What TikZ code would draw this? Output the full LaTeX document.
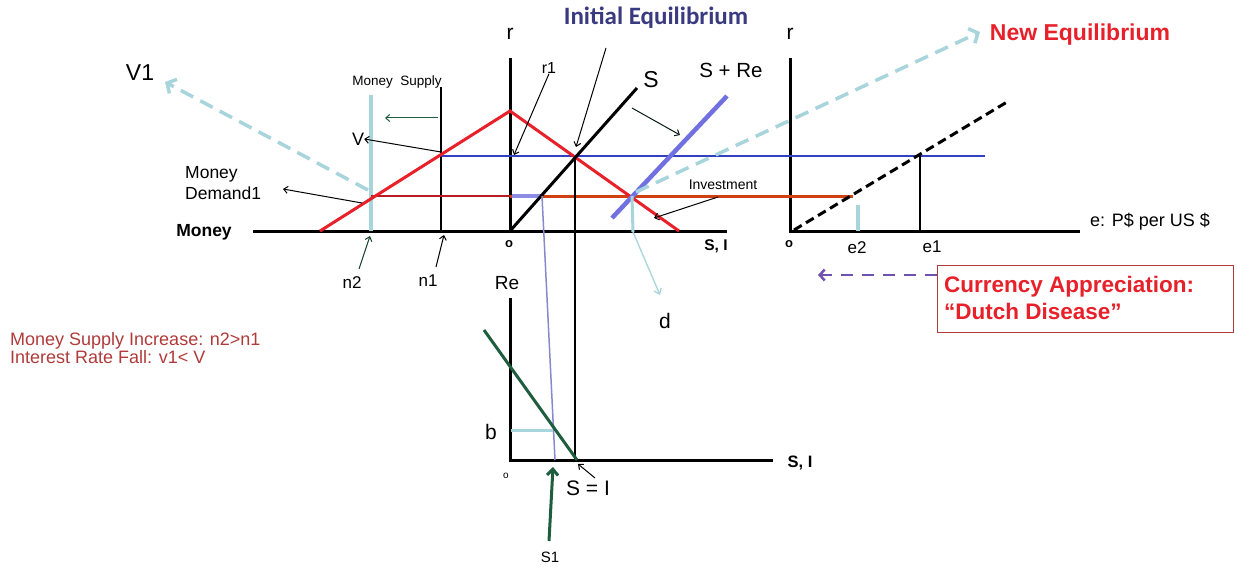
\documentclass[tikz,border=0pt]{standalone}
\usepackage{fontspec}
\setmainfont{Liberation Sans}
\newfontfamily\calib{Carlito}
\usetikzlibrary{arrows.meta}
\definecolor{dred}{HTML}{E8202A}
\definecolor{lblue}{HTML}{A8D4DC}
\definecolor{sblue}{HTML}{3040C0}
\definecolor{srepurple}{HTML}{7070E0}
\definecolor{orng}{HTML}{D04010}
\definecolor{dgreen}{HTML}{1E5E3E}
\definecolor{dpurple}{HTML}{7050B0}
\definecolor{ieblue}{HTML}{3A3A80}
\definecolor{brn}{HTML}{B03A3A}
\definecolor{lpurple}{HTML}{8888CC}
\tikzset{
  fs/.style={font=\fontsize{#1}{#1}\selectfont},
  fsb/.style={font=\bfseries\fontsize{#1}{#1}\selectfont},
  lbl/.style={inner sep=0pt},
  axis/.style={line width=3pt},
  barb/.style={-{Straight Barb[length=4pt,width=7pt]}, line width=1pt},
  bigdash/.style={line width=3.5pt, dash pattern=on 14pt off 8pt, color=lblue,
     -{Straight Barb[length=7pt,width=16pt,line width=3.5pt]}},
}
\begin{document}
\begin{tikzpicture}[x=1pt,y=-1pt]
\useasboundingbox (0,0) rectangle (1237,567);
% ---------- coordinates ----------
\coordinate (mL) at (253,231); \coordinate (mR) at (727,231);
\coordinate (msTop) at (441,87); \coordinate (msBot) at (441,231);
\coordinate (lbTop) at (371,95); \coordinate (lbBot) at (371,231);
\coordinate (dL) at (320,231); \coordinate (dPeak) at (510,111); \coordinate (dR) at (679,231);
\coordinate (rTop) at (510,58); \coordinate (o1) at (510,231);
\coordinate (Sb) at (637,88);
\coordinate (SRa) at (612,218); \coordinate (SRb) at (727,96);
\coordinate (eq1) at (575,157); \coordinate (eq2) at (632,196);
\coordinate (blueL) at (441,156); \coordinate (blueR) at (985,156);
\coordinate (redL) at (371,196); \coordinate (redM) at (510,196);
\coordinate (orR) at (853,196);
\coordinate (pS) at (542,196); \coordinate (pSb) at (555,460);
\coordinate (eqTop) at (575,156); \coordinate (eqBot) at (575,460);
% right panel
\coordinate (r2Top) at (790,58); \coordinate (o2) at (790,231); \coordinate (x2R) at (1080,231);
\coordinate (dashA) at (794,230); \coordinate (dashB) at (1007,102);
\coordinate (e1Top) at (920,156); \coordinate (e1Bot) at (920,231);
\coordinate (e2Top) at (858,205); \coordinate (e2Bot) at (858,231);
% bottom panel
\coordinate (reTop) at (510,298); \coordinate (o3) at (510,460); \coordinate (x3R) at (773,460);
\coordinate (gA) at (484,330); \coordinate (gB) at (577,460);
\coordinate (bR) at (553,430); \coordinate (bL) at (511,430);
% ---------- axes ----------
\draw[axis] (mL) -- (mR);
\draw[axis] (rTop) -- (o1);
\draw[axis] (r2Top) -- (o2) -- (x2R);
\draw[axis] (reTop) -- (o3) -- (x3R);
% money supply lines
\draw[line width=2.5pt] (msTop) -- (msBot);
\draw[line width=3.5pt, lblue] (lbTop) -- (lbBot);
% horizontal rate lines
\draw[line width=1.3pt, sblue] (blueL) -- (blueR);
\draw[line width=1.2pt, dred!80!black] (redL) -- (redM);
\draw[line width=3pt, orng] (redM) -- (orR);
\draw[line width=3.5pt, srepurple!80] (512,196) -- (pS);
% money demand / investment
\draw[line width=3pt, dred, line join=miter] (dL) -- (dPeak) -- (dR);
% S and S+Re
\draw[line width=3pt] (o1) -- (Sb);
\draw[line width=4.5pt, srepurple] (SRa) -- (SRb);
% verticals down
\draw[line width=2.5pt] (eqTop) -- (eqBot);
\draw[line width=1.5pt, lpurple] (pS) -- (pSb);
\draw[line width=3pt, lblue] (eq2) -- (633,232);
\draw[line width=1.3pt, lblue, -{Straight Barb[length=5pt,width=8pt]}] (633,232) -- (660,295);
% right panel
\draw[line width=3pt, dash pattern=on 9pt off 5pt] (dashA) -- (dashB);
\draw[line width=1.2pt] (e1Top) -- (e1Bot);
\draw[line width=3.5pt, lblue] (e2Top) -- (e2Bot);
% bottom panel
\draw[line width=3pt, dgreen] (gA) -- (gB);
\draw[line width=3pt, lblue] (bL) -- (bR);
% ---------- big dashed arrows ----------
\coordinate (v1tail) at (368,190); \coordinate (v1tip) at (165,82);
\coordinate (netail) at (636,192); \coordinate (netip) at (980,32);
\draw[bigdash] (v1tail) -- (v1tip);
\draw[bigdash] (netail) -- (netip);
% ---------- labels ----------
\node[lbl, fs=23] (V1) at (140,73) {V1};
\node[lbl, fs=13.5] (msl) at (397,82) {Money\ \ Supply};
\node[lbl, fs=18] (Vl) at (358,139) {V};
\node[lbl, align=left, anchor=west, font=\fontsize{17.5}{21}\selectfont] (mdl) at (185,183) {Money\\Demand1};
\node[lbl, fsb=17.5] (money) at (204,232) {Money};
\node[lbl, fs=17] (n2) at (352,283) {n2};
\node[lbl, fs=17] (n1) at (428,281) {n1};
\node[lbl, fs=21] (r1ax) at (510,34) {r};
\node[lbl, fs=16] (r1) at (549,68) {r1};
\node[lbl, font=\calib\bfseries\fontsize{25}{25}\selectfont, text=ieblue] (ie) at (656,18) {Initial Equilibrium};
\node[lbl, fs=23] (S) at (651,80) {S};
\node[lbl, fs=20.5] (SRe) at (731,70) {S + Re};
\node[lbl, fs=14] (inv) at (723,185) {Investment};
\node[lbl, fsb=15.5] (SI1) at (716,246) {S, I};
\node[lbl, fsb=13] (o1l) at (509,244) {o};
\node[lbl, fs=21] (r2ax) at (790,34) {r};
\node[lbl, fsb=23, text=dred] (ne) at (1080,35) {New Equilibrium};
\node[lbl, fs=18] (el) at (1150,222) {e: P\$ per US \$};
\node[lbl, fsb=13] (o2l) at (789,244) {o};
\node[lbl, fs=17] (e2) at (857,248) {e2};
\node[lbl, fs=17] (e1) at (932,247) {e1};
\node[draw=brn, line width=1.2pt, anchor=north west, minimum width=296pt, minimum height=67pt,
      inner sep=0pt] (box) at (937,265) {};
\node[lbl, anchor=west, align=left, text=dred, font=\bfseries\fontsize{22.5}{27}\selectfont] (ca) at (944,298)
   {Currency Appreciation:\\“Dutch Disease”};
\node[lbl, fs=21] (d) at (665,321) {d};
\node[lbl, fs=19] (Re) at (507,283) {Re};
\node[lbl, fs=21] (b) at (491,432) {b};
\node[lbl, fs=10] (o3l) at (506,476) {o};
\node[lbl, fsb=16.5] (SI2) at (800,463) {S, I};
\node[lbl, fs=21] (SeqI) at (588,488) {S = I};
\node[lbl, fs=15] (S1) at (550,557) {S1};
\node[lbl, anchor=west, align=left, text=brn, font=\fontsize{18}{18}\selectfont] (note) at (10,348)
   {Money Supply Increase: n2>n1\\Interest Rate Fall: v1< V};
% ---------- small arrows ----------
\coordinate (msArrT) at (438,118); \coordinate (msArrH) at (385,118);
\draw[barb, dgreen] (msArrT) -- (msArrH);
\coordinate (vT) at (441,152);
\draw[barb] (vT) -- (Vl.east);
\coordinate (mdT) at (362,203); \coordinate (mdH) at (283,189);
\draw[barb] (mdT) -- (mdH);
\coordinate (n2H) at (370,236); \coordinate (n1H) at (444,235);
\coordinate (n2T) at (359,269); \coordinate (n1T) at (436,267);
\draw[barb, dgreen!70!black] (n2T) -- (n2H);
\draw[barb] (n1T) -- (n1H);
\coordinate (r1H) at (514,155);
\draw[barb] (r1.south) -- (r1H);
\coordinate (ieT) at (606,48); \coordinate (ieH) at (576,147);
\draw[barb] (ieT) -- (ieH);
\coordinate (sT) at (632,108); \coordinate (sH) at (680,135);
\draw[barb, black!70!dgreen] (sT) -- (sH);
\coordinate (invT) at (718,197); \coordinate (invH) at (654,218);
\draw[barb] (invT) -- (invH);
\coordinate (siT) at (595,478); \coordinate (siH) at (578,464);
\draw[barb] (siT) -- (siH);
\coordinate (s1T) at (549,541); \coordinate (s1H) at (553,467);
\draw[line width=3pt, dgreen, -{Straight Barb[length=6pt,width=11pt]}] (s1T) -- (s1H);
\coordinate (caH) at (818,275);
\draw[line width=2.5pt, dpurple, dash pattern=on 12pt off 9pt,
      -{Straight Barb[length=5pt,width=11pt]}] (box.west |- 0,275) -- (caH);
\end{tikzpicture}
\end{document}
